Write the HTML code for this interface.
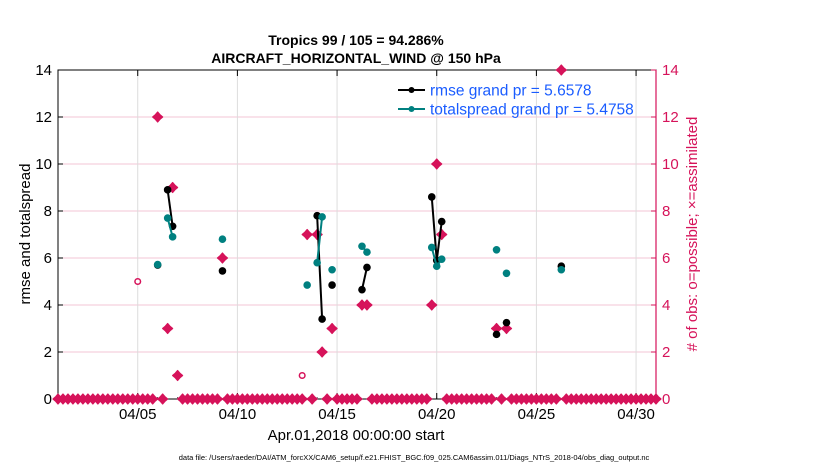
<!DOCTYPE html>
<html><head><meta charset="utf-8"><style>
body{margin:0;background:#fff;}
svg{display:block;font-family:"Liberation Sans",sans-serif;}
</style></head><body>
<svg id="chart" width="830" height="470" xmlns="http://www.w3.org/2000/svg">
<text x="356" y="45" text-anchor="middle" font-size="14" font-weight="bold">Tropics 99 / 105 = 94.286%</text>
<text x="356" y="63" text-anchor="middle" font-size="14" font-weight="bold">AIRCRAFT_HORIZONTAL_WIND @ 150 hPa</text>
<text transform="translate(30,234) rotate(-90)" text-anchor="middle" font-size="15">rmse and totalspread</text>
<text transform="translate(697,234) rotate(-90)" text-anchor="middle" font-size="15" fill="#d6135a"># of obs: o=possible; ×=assimilated</text>
<text x="356" y="440" text-anchor="middle" font-size="15">Apr.01,2018 00:00:00 start</text>
<text x="414" y="460" text-anchor="middle" font-size="7.5">data file: /Users/raeder/DAI/ATM_forcXX/CAM6_setup/f.e21.FHIST_BGC.f09_025.CAM6assim.011/Diags_NTrS_2018-04/obs_diag_output.nc</text>
<g id="plot"></g>
</svg>
<script>
// data: time in days since Apr 01 00:00
const xTickDays = [4, 9, 14, 19, 24, 29];
const xTickLabels = ["04/05","04/10","04/15","04/20","04/25","04/30"];
const yTicks = [0,2,4,6,8,10,12,14];
const rmseTimes = [5.0,5.5,5.75,8.25,13.0,13.25,13.75,15.25,15.5,18.75,19.0,19.25,22.0,22.5,25.25];
const rmseVals  = [5.7,8.9,7.35,5.45,7.8,3.4,4.85,4.65,5.6,8.6,5.9,7.55,2.75,3.25,5.65];
const spreadTimes = [5.0,5.5,5.75,8.25,12.5,13.0,13.25,13.75,15.25,15.5,18.75,19.0,19.25,22.0,22.5,25.25];
const spreadVals  = [5.72,7.7,6.9,6.8,4.85,5.8,7.75,5.5,6.5,6.25,6.45,5.65,5.95,6.35,5.35,5.5];
const assimTimes = [5.0,5.5,5.75,6.0,8.25,12.5,13.0,13.25,13.75,15.25,15.5,18.75,19.0,19.25,22.0,22.5,25.25];
const assimVals  = [12,3,9,1,6,7,7,2,3,4,4,4,10,7,3,3,14];
const possibleTimes = [4.0,12.25];
const possibleVals  = [5,1];

const L=58,R=656,T=70,B=399, D0=0,D1=30;
const xs=d=>L+(d-D0)/(D1-D0)*(R-L);
const ys=v=>B-v/14*(B-T);
const NS="http://www.w3.org/2000/svg";
const g=document.getElementById('plot');
function mk(tag,attrs){const e=document.createElementNS(NS,tag);for(const k in attrs)e.setAttribute(k,attrs[k]);g.appendChild(e);return e;}
const PINK="#d6135a", TEAL="#008080";
yTicks.forEach(v=>{const e=mk('line',{x1:L,x2:R,y1:ys(v),y2:ys(v),stroke:"#f3c6d6","stroke-width":1});

});
xTickDays.forEach(d=>{const e=mk('line',{x1:xs(d),x2:xs(d),y1:T,y2:B,stroke:"#dcdcdc","stroke-width":1});

});
let a=mk('rect',{x:L,y:T,width:R-L,height:B-T,fill:"none",stroke:"#000","stroke-width":1});


a=mk('line',{x1:R,x2:R,y1:T,y2:B,stroke:PINK,"stroke-width":1.2});


yTicks.forEach(v=>{
  mk('line',{x1:L,x2:L+5,y1:ys(v),y2:ys(v),stroke:"#000"});
  mk('line',{x1:R-5,x2:R,y1:ys(v),y2:ys(v),stroke:PINK});
  let t=mk('text',{x:L-6,y:ys(v)+5,"text-anchor":"end","font-size":15});t.textContent=v;
  
  
  t=mk('text',{x:R+6,y:ys(v)+5,"font-size":15,fill:PINK});t.textContent=v;
  
  
});
for(let d=1;d<30;d++){mk('line',{x1:xs(d),x2:xs(d),y1:B,y2:B-2,stroke:"#000","stroke-width":0.6});}
xTickDays.forEach((d,i)=>{
  mk('line',{x1:xs(d),x2:xs(d),y1:B,y2:B-6,stroke:"#000"});
  mk('line',{x1:xs(d),x2:xs(d),y1:T,y2:T+6,stroke:"#000"});
  const t=mk('text',{x:xs(d),y:B+20,"text-anchor":"middle","font-size":15});t.textContent=xTickLabels[i];
  
  
});
function series(times,vals,color,name){
  for(let i=1;i<times.length;i++){
    if(Math.abs(times[i]-times[i-1]-0.25)<1e-6){
      const l=mk('line',{x1:xs(times[i-1]),y1:ys(vals[i-1]),x2:xs(times[i]),y2:ys(vals[i]),stroke:color,"stroke-width":2});
      
      
    }
  }
  times.forEach((t,i)=>{const c=mk('circle',{cx:xs(t),cy:ys(vals[i]),r:3.8,fill:color});
    
    });
}
function star(x,y){const s=5,q=2.3;
  return mk('path',{d:`M${x-s},${y}L${x-q},${y-q}L${x},${y-s}L${x+q},${y-q}L${x+s},${y}L${x+q},${y+q}L${x},${y+s}L${x-q},${y+q}Z`,fill:PINK,stroke:PINK,"stroke-width":1.2,"stroke-linejoin":"round"});}
for(let k=0;k<=120;k++){
  const t=k*0.25; const idx=assimTimes.findIndex(v=>Math.abs(v-t)<1e-6);
  const v=idx>=0?assimVals[idx]:0;
  const p=star(xs(t),ys(v));
  
  
}
possibleTimes.forEach((t,i)=>{const c=mk('circle',{cx:xs(t),cy:ys(possibleVals[i]),r:2.8,fill:"#fff",stroke:PINK,"stroke-width":1.5});
  
  });
series(rmseTimes,rmseVals,"#000",'rmse');
series(spreadTimes,spreadVals,TEAL,'totalspread');
[["#000","rmse grand pr = 5.6578",90],[TEAL,"totalspread grand pr = 5.4758",109]].forEach(([c,txt,y],i)=>{
  mk('line',{x1:398,x2:425,y1:y,y2:y,stroke:c,"stroke-width":2});
  mk('circle',{cx:411.5,cy:y,r:3,fill:c});
  const t=mk('text',{x:430,y:y+5.5,"font-size":15.5,fill:"#1a5cff"});t.textContent=txt;
  
  
});
</script>
</body></html>
